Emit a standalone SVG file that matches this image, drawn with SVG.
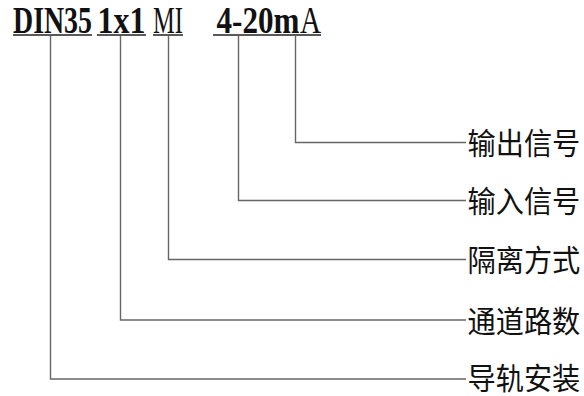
<svg xmlns="http://www.w3.org/2000/svg" width="584" height="396" viewBox="0 0 584 396">
<style>
.code{font-family:"Liberation Serif","Times New Roman",serif;font-size:37px;fill:#111}
.b{font-weight:bold}
.ul{stroke:#222;stroke-width:1.5;fill:none}
.conn{stroke:#666;stroke-width:1.4;fill:none}
.lbl{font-family:"Noto Sans CJK SC","Noto Sans",sans-serif;font-size:30px;fill:#111}
</style>
<rect width="584" height="396" fill="#fff"/>
<g id="code">
  <text class="code b" transform="translate(13,32.5) scale(0.754,1)">DIN35</text>
  <text class="code b" transform="translate(97.5,32.5) scale(0.864,1)">1x1</text>
  <text class="code" transform="translate(153,32.5) scale(0.662,1)">MI</text>
  <text class="code b" transform="translate(216.5,32.5) scale(0.841,1)">4-20m</text>
  <text class="code" transform="translate(300,32.5) scale(0.79,1)">A</text>
  <line class="ul" x1="13" y1="35" x2="92" y2="35"/>
  <line class="ul" x1="97" y1="35" x2="146" y2="35"/>
  <line class="ul" x1="153" y1="35" x2="183" y2="35"/>
  <line class="ul" x1="213" y1="35" x2="321" y2="35"/>
</g>
<g id="connectors">
  <polyline class="conn" points="295.5,36 295.5,142.5 466,142.5"/>
  <polyline class="conn" points="238.5,36 238.5,200.5 466,200.5"/>
  <polyline class="conn" points="168.5,36 168.5,259.5 466,259.5"/>
  <polyline class="conn" points="120.5,36 120.5,320 466,320"/>
  <polyline class="conn" points="50.5,36 50.5,379 466,379"/>
</g>
<g id="n-output"><text class="lbl" transform="translate(467.5,154) scale(0.94,1)">输出信号</text></g>
<g id="n-input"><text class="lbl" transform="translate(467.5,212) scale(0.94,1)">输入信号</text></g>
<g id="n-isolation"><text class="lbl" transform="translate(467.5,271) scale(0.94,1)">隔离方式</text></g>
<g id="n-channels"><text class="lbl" transform="translate(467.5,331.5) scale(0.94,1)">通道路数</text></g>
<g id="n-mount"><text class="lbl" transform="translate(467.5,389) scale(0.94,1)">导轨安装</text></g>
</svg>
